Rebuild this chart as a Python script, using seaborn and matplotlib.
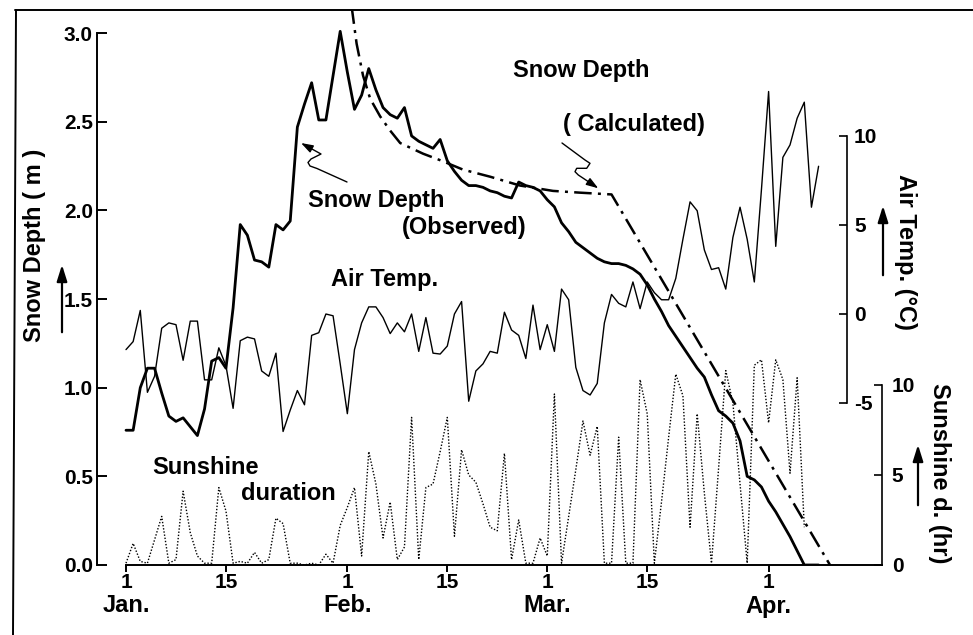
import matplotlib
matplotlib.use("Agg")
import matplotlib.pyplot as plt
import matplotlib.transforms as mtransforms
from matplotlib.path import Path
from matplotlib.patches import FancyArrowPatch
from matplotlib.lines import Line2D
import seaborn as sns
import pandas as pd


# days counted from Jan. 1 (= day 0)
obs_day = list(range(98))
obs_depth = [0.76, 0.76, 1.00, 1.11, 1.11, 0.97, 0.84, 0.81, 0.83, 0.78,
             0.73, 0.88, 1.15, 1.17, 1.11, 1.45, 1.92, 1.86, 1.72, 1.71,
             1.68, 1.92, 1.89, 1.94, 2.47, 2.60, 2.72, 2.51, 2.51, 2.76,
             3.01, 2.78, 2.57, 2.65, 2.80, 2.68, 2.58, 2.54, 2.52, 2.58,
             2.42, 2.39, 2.37, 2.35, 2.40, 2.28, 2.22, 2.17, 2.14, 2.14,
             2.13, 2.11, 2.10, 2.08, 2.07, 2.16, 2.14, 2.13, 2.11, 2.06,
             2.02, 1.93, 1.88, 1.82, 1.79, 1.76, 1.73, 1.71, 1.70, 1.70,
             1.69, 1.67, 1.64, 1.58, 1.50, 1.43, 1.35, 1.29, 1.23, 1.17,
             1.11, 1.06, 0.96, 0.87, 0.84, 0.80, 0.70, 0.50, 0.48, 0.44,
             0.36, 0.30, 0.23, 0.16, 0.08, 0.00, 0.00, 0.00]

calc_day = [31.6, 32.3, 33.2, 34.2, 35.6, 37.0, 38.4, 41.6, 44.2, 47.2,
            51.0, 55.2, 59.8, 63.6, 68.0, 98.6]
calc_depth = [3.15, 2.94, 2.76, 2.63, 2.53, 2.45, 2.38, 2.32, 2.28, 2.23,
              2.19, 2.14, 2.11, 2.10, 2.09, 0.00]

temp_day = list(range(98))
air_temp = [-2.0, -1.55, 0.2, -4.4, -3.5, -0.8, -0.5, -0.6, -2.6, -0.4,
            -0.4, -3.7, -3.7, -1.9, -2.9, -5.3, -1.5, -1.3, -1.4, -3.2,
            -3.5, -2.2, -6.6, -5.4, -4.3, -5.1, -1.2, -1.05, 0.0, -0.1,
            -2.8, -5.6, -2.0, -0.5, 0.4, 0.4, -0.2, -1.1, -0.5, -1.0,
            0.0, -2.1, -0.2, -2.2, -2.25, -1.8, 0.0, 0.7, -4.9, -3.2,
            -2.8, -2.1, -2.2, 0.1, -0.9, -1.2, -2.5, 0.5, -2.0, -0.6,
            -2.1, 1.4, 0.8, -3.0, -4.3, -4.55, -3.9, -0.5, 1.1, 0.6,
            0.4, 1.8, 0.3, 1.8, 1.2, 0.8, 0.8, 2.0, 4.2, 6.3,
            5.8, 3.6, 2.5, 2.6, 1.4, 4.3, 6.0, 4.2, 1.8, 7.0,
            12.5, 3.8, 8.8, 9.5, 11.0, 11.9, 6.0, 8.3]

sun_day = list(range(96))
sunshine = [0.1, 1.2, 0.2, 0.1, 1.4, 2.7, 0.1, 0.3, 4.1, 1.8,
            0.5, 0.1, 0.1, 4.3, 3.0, 0.1, 0.2, 0.1, 0.7, 0.1,
            0.3, 2.6, 2.3, 0.1, 0.1, 0.0, 0.1, 0.0, 0.6, 0.1,
            2.2, 3.2, 4.3, 0.5, 6.3, 4.5, 1.5, 3.5, 0.3, 1.0,
            8.2, 0.3, 4.3, 4.5, 6.3, 8.2, 1.6, 6.4, 5.0, 4.6,
            3.4, 2.1, 1.9, 6.2, 0.3, 2.5, 0.1, 0.1, 1.5, 0.5,
            9.5, 0.1, 2.7, 5.3, 8.0, 6.1, 7.7, 0.1, 0.1, 7.1,
            0.1, 0.1, 10.3, 8.4, 0.1, 3.5, 7.1, 10.6, 9.4, 2.1,
            8.4, 4.0, 0.1, 5.4, 10.8, 9.0, 4.5, 0.1, 11.1, 11.4,
            7.9, 11.4, 10.3, 5.1, 10.4, 2.1]

tick_days = [0, 14, 31, 45, 59, 73, 90]
tick_labels = ["1", "15", "1", "15", "1", "15", "1"]
month_days = [0, 31, 59, 90]
month_names = ["Jan.", "Feb.", "Mar.", "Apr."]

depth_ticks = [0.0, 0.5, 1.0, 1.5, 2.0, 2.5, 3.0]
temp_ticks = [-5, 0, 5, 10]
sun_ticks = [0, 5, 10]


sns.set_theme(style="white")
plt.rcParams["font.family"] = ["Liberation Sans", "DejaVu Sans"]
plt.rcParams["font.weight"] = "bold"
plt.rcParams["text.color"] = "black"

W, H = 973, 635
fig = plt.figure(figsize=(W / 100, H / 100), dpi=100)
fig.patch.set_facecolor("white")


def fx(px):
    return px / W


def fy(py):
    return 1 - py / H


# pixel layout of the original scan
x_left, x_day0, x_right = 97, 126, 882
y_zero, y_top = 565, 10
px_day = 7.14
px_m = 177.3

ax = fig.add_axes([fx(x_left), fy(y_zero), fx(x_right - x_left), (y_zero - y_top) / H])
ax.set_xlim(-(x_day0 - x_left) / px_day, (x_right - x_day0) / px_day)
ax.set_ylim(0, (y_zero - y_top) / px_m)

ax_t = ax.twinx()
ax_t.set_ylim((314 - y_zero) / 17.8, (314 - y_top) / 17.8)
ax_s = ax.twinx()
ax_s.set_ylim(0, (y_zero - y_top) / 18.0)

obs = pd.DataFrame({"day": obs_day, "depth": obs_depth})
calc = pd.DataFrame({"day": calc_day, "depth": calc_depth})
temp = pd.DataFrame({"day": temp_day, "temp": air_temp})
sun = pd.DataFrame({"day": sun_day, "sun": sunshine})

sns.lineplot(data=sun, x="day", y="sun", ax=ax_s, color="black",
             linewidth=1.0, linestyle=(0, (1, 1.3)))
sns.lineplot(data=temp, x="day", y="temp", ax=ax_t, color="black", linewidth=1.0)
sns.lineplot(data=calc, x="day", y="depth", ax=ax, color="black",
             linewidth=1.8, linestyle=(0, (7, 2.5, 1.2, 2.5)))
sns.lineplot(data=obs, x="day", y="depth", ax=ax, color="black", linewidth=2.0)

for a in (ax, ax_t, ax_s):
    a.set_xlabel("")
    a.set_ylabel("")
    for s in a.spines.values():
        s.set_visible(False)
    a.patch.set_visible(False)

# snow depth axis (left)
ax.spines["left"].set_visible(True)
ax.spines["left"].set_bounds(0, 3.0)
ax.spines["bottom"].set_visible(True)
ax.spines["bottom"].set_bounds(0, (x_right - x_day0) / px_day)
for sp in ("left", "bottom"):
    ax.spines[sp].set_color("black")
    ax.spines[sp].set_linewidth(1.4)
ax.set_yticks(depth_ticks, [f"{v:.1f}" for v in depth_ticks])
ax.tick_params(axis="y", direction="in", length=7, width=1.4, pad=3,
               labelsize=15, colors="black", left=True)
ax.set_xticks(tick_days, tick_labels)
ax.tick_params(axis="x", direction="out", length=5, width=1.4, pad=1,
               labelsize=15, colors="black", bottom=True)

# air temperature axis (inner right)
ax_t.spines["right"].set_visible(True)
ax_t.spines["right"].set_position(("axes", (847 - x_left) / (x_right - x_left)))
ax_t.spines["right"].set_bounds(-5, 10)
ax_t.spines["right"].set_linewidth(1.2)
ax_t.spines["right"].set_color("black")
ax_t.set_yticks(temp_ticks, [str(v) for v in temp_ticks])
ax_t.tick_params(axis="y", direction="in", length=6, width=1.2, pad=5,
                 labelsize=15, colors="black", right=True)

# sunshine axis (outer right)
ax_s.spines["right"].set_visible(True)
ax_s.spines["right"].set_bounds(0, 10)
ax_s.spines["right"].set_linewidth(1.2)
ax_s.spines["right"].set_color("black")
ax_s.set_yticks(sun_ticks, [str(v) for v in sun_ticks])
ax_s.tick_params(axis="y", direction="in", length=6, width=1.2, pad=7,
                 labelsize=15, colors="black", right=True)

# month names under the day ticks
trans = mtransforms.blended_transform_factory(ax.transData, fig.transFigure)
for d, m in zip(month_days, month_names):
    ax.text(d, fy(606), m, transform=trans, ha="center", va="center",
            fontsize=17, color="black")

# axis titles with arrows
fig.text(fx(35), fy(245), "Snow Depth ( m )", rotation=90, ha="center", va="center", fontsize=17)
fig.text(fx(905), fy(252), "Air Temp. (°C)", rotation=270, ha="center", va="center", fontsize=17)
fig.text(fx(940), fy(473), "Sunshine d. (hr)", rotation=270, ha="center", va="center", fontsize=17)
arrow_kw = dict(arrowstyle="-|>,head_width=0.22,head_length=0.7", color="black", lw=1.6)
for xa, y0, y1 in [(62, 335, 262), (883, 278, 203), (918, 508, 442)]:
    fig.add_artist(FancyArrowPatch((fx(xa), fy(y0)), (fx(xa), fy(y1)),
                                   transform=fig.transFigure, mutation_scale=14, **arrow_kw))

# in-plot labels
fig.text(fx(581), fy(71), "Snow Depth", ha="center", va="center", fontsize=17)
fig.text(fx(634), fy(124), "( Calculated)", ha="center", va="center", fontsize=17)
fig.text(fx(376), fy(200), "Snow Depth", ha="center", va="center", fontsize=17)
fig.text(fx(464), fy(228), "(Observed)", ha="center", va="center", fontsize=17)
fig.text(fx(385), fy(279), "Air Temp.", ha="center", va="center", fontsize=17)
fig.text(fx(206), fy(467), "Sunshine", ha="center", va="center", fontsize=17)
fig.text(fx(288), fy(494), "duration", ha="center", va="center", fontsize=17)

# wavy pointer arrows
squiggles = [
    [(347, 182), (317, 168.5), (310, 166), (308, 162.5), (311, 159), (317, 156), (321, 154), (301, 143)],
    [(562, 143), (585, 160), (590, 163.3), (586.7, 168.3), (576.7, 168.3), (575, 171.7),
     (578.3, 175), (583.3, 178.3), (598.3, 188.3)],
]
for pts in squiggles:
    verts = [(fx(px), fy(py)) for px, py in pts]
    codes = [Path.MOVETO] + [Path.LINETO] * (len(verts) - 1)
    fig.add_artist(FancyArrowPatch(path=Path(verts, codes), transform=fig.transFigure,
                                   arrowstyle="-|>,head_width=0.2,head_length=0.6",
                                   mutation_scale=12, color="black", lw=1.0))

# outer frame of the scanned figure
fig.add_artist(Line2D([fx(15), fx(973)], [fy(10), fy(10)], color="black", lw=1.4))
fig.add_artist(Line2D([fx(16), fx(13)], [fy(10), fy(635)], color="black", lw=1.4))

fig.savefig("out.png", dpi=100)
